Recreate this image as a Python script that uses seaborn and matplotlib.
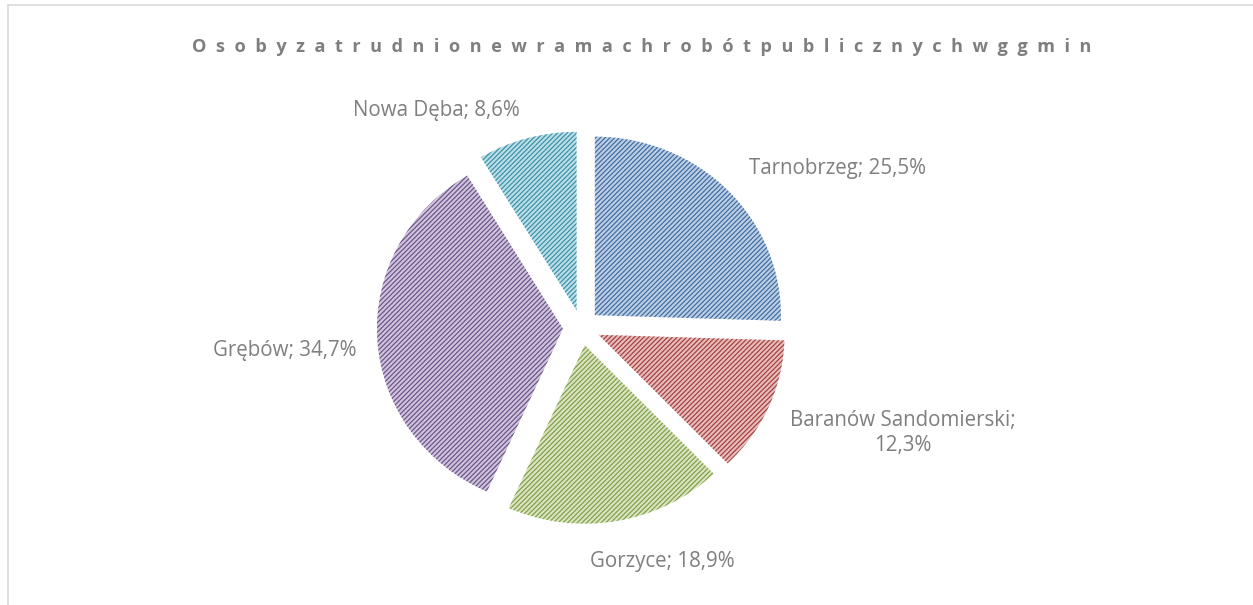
import matplotlib.pyplot as plt
import matplotlib.colors as mcolors
from matplotlib.patches import Rectangle
import seaborn as sns
import numpy as np

sns.set_style("white")
plt.rcParams["font.family"] = ["Open Sans", "DejaVu Sans"]
plt.rcParams["hatch.linewidth"] = 0.9

# data
gminy = ["Tarnobrzeg", "Baranów Sandomierski", "Gorzyce", "Grębów", "Nowa Dęba"]
udzial = [25.5, 12.3, 18.9, 34.7, 8.6]
etykiety = ["Tarnobrzeg; 25,5%", "Baranów Sandomierski;\n12,3%", "Gorzyce; 18,9%",
            "Grębów; 34,7%", "Nowa Dęba; 8,6%"]
tytul = "Osobyzatrudnionewramachrobótpublicznychwggmin"

# label placement, in pie radius units from centre
lab_pos = [(1.374, 0.894), (1.728, -0.591), (0.433, -1.308), (-1.594, -0.126), (-0.782, 1.218)]

base = ["#4F81BD", "#C0504D", "#9BBB59", "#8064A2", "#4BACC6"]
face = [mcolors.to_hex(np.array(mcolors.to_rgb(c)) * 0.38 + 0.62) for c in base]
hatchc = [mcolors.to_hex(np.array(mcolors.to_rgb(c)) * 0.85) for c in base]

fig = plt.figure(figsize=(12.53, 6.05), dpi=100)
fig.patch.set_facecolor("white")

# chart frame (right/bottom edges cut off in the original)
fig.add_artist(Rectangle((8 / 1253, -0.05), 1.1, 0.05 + 1 - 5 / 605, transform=fig.transFigure,
                         fill=False, edgecolor="#D9D9D9", linewidth=1.2))

L = 1.4
ax = fig.add_axes([0.2563, 0.0455, 0.4156, 0.8261])
wedges, _ = ax.pie(udzial, startangle=90, counterclock=False, explode=[0.1] * len(udzial),
                   colors=face, wedgeprops=dict(linewidth=0))
for w, hc in zip(wedges, hatchc):
    w.set_hatch("///////")
    w.set_edgecolor(hc)
    w.set_linewidth(0)

for txt, (x, y) in zip(etykiety, lab_pos):
    ax.text(x, y, txt, ha="center", va="center", fontsize=14.8, color="#7F7F7F",
            linespacing=1.3)

ax.set_aspect("auto")
ax.set_xlim(-L, L)
ax.set_ylim(-L, L)
ax.axis("off")

fig.text(642 / 1253, 1 - 47 / 605, "  ".join(tytul), ha="center", va="center",
         fontsize=13.05, fontweight="bold", color="#7F7F7F")

fig.savefig("out.png", dpi=100)
